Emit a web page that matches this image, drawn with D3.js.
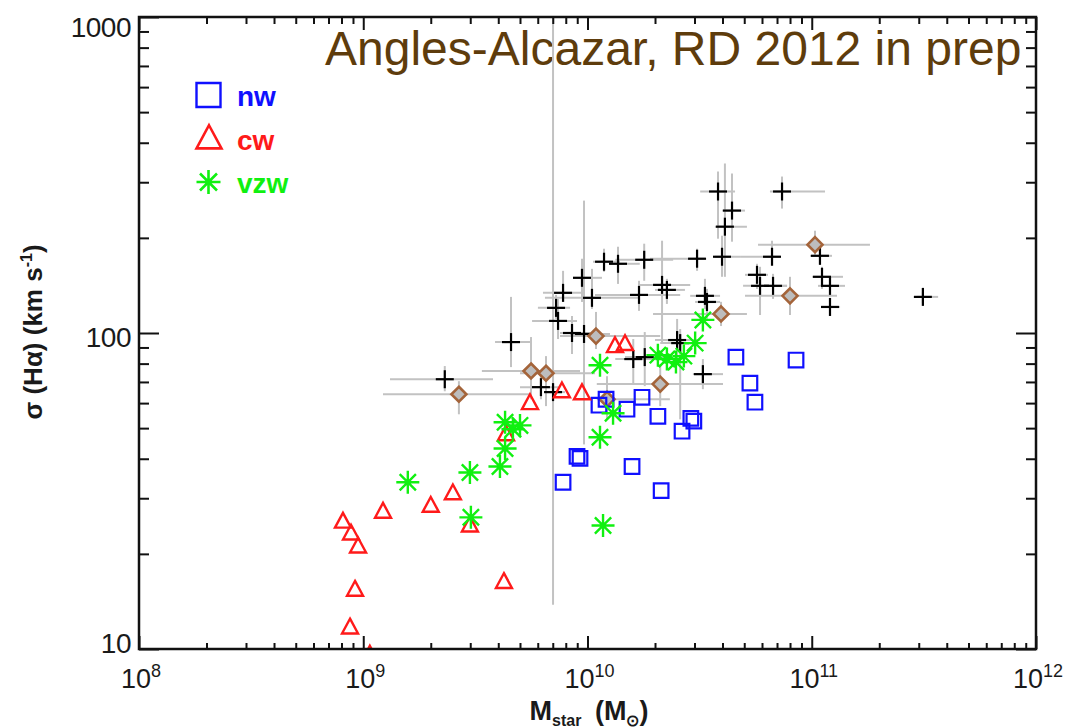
<!DOCTYPE html>
<html>
<head>
<meta charset="utf-8">
<script src="https://cdn.jsdelivr.net/npm/d3@7/dist/d3.min.js"></script>
<style>
  html, body { margin: 0; padding: 0; background: #fff; }
  svg { display: block; }
  text { font-family: "Liberation Sans", Arial, Helvetica, sans-serif; }
</style>
</head>
<body>
<svg id="chart" width="1068" height="728"></svg>
<script>
// ---- data ---------------------------------------------------------------
// simulated winds: no wind (nw), constant wind (cw), momentum-driven wind (vzw)
const nwMass  = [7.78e9, 8.98e9, 9.26e9, 1.125e10, 1.21e10, 1.50e10, 1.75e10, 2.06e10, 1.58e10, 2.13e10, 2.64e10, 2.89e10, 2.98e10, 4.59e10, 5.30e10, 5.58e10, 8.51e10];
const nwSigma = [33.7, 40.7, 40.1, 59.1, 61.7, 57.4, 62.6, 54.5, 37.8, 31.7, 48.9, 53.7, 52.6, 83.9, 69.4, 60.4, 82.1];

const cwMass  = [8.12e8, 8.82e8, 9.48e8, 9.19e8, 8.73e8, 1.225e9, 2.00e9, 2.51e9, 2.99e9, 4.24e9, 4.33e9, 5.54e9, 7.69e9, 9.45e9, 1.326e10, 1.47e10, 1.07e9];
const cwSigma = [25.3, 23.2, 21.1, 15.4, 11.7, 27.2, 28.4, 31.1, 24.6, 16.3, 47.8, 60.0, 65.4, 64.5, 90.9, 92.3, 9.6];

const vzwMass  = [1.58e9, 2.99e9, 3.02e9, 4.07e9, 4.29e9, 4.29e9, 4.65e9, 5.00e9, 1.137e10, 1.30e10, 1.137e10, 1.173e10, 2.06e10, 2.26e10, 2.48e10, 2.69e10, 3.02e10, 3.27e10];
const vzwSigma = [33.7, 36.2, 26.1, 37.8, 43.1, 52.2, 49.6, 51.0, 79.1, 55.7, 46.8, 24.6, 85.1, 82.7, 80.9, 84.5, 92.9, 110];

// observed galaxies (crosses) with error ranges
const crossMass   = [2.31e9, 4.56e9, 6.20e9, 7.02e9, 7.24e9, 7.39e9, 7.78e9, 8.53e9, 9.65e9, 9.45e9, 1.047e10, 1.185e10, 1.368e10, 1.697e10, 1.79e10, 2.15e10, 2.26e10, 1.60e10, 1.80e10, 2.51e10, 2.59e10, 3.27e10, 3.08e10, 3.98e10, 3.82e10, 4.41e10, 4.10e10, 7.37e10, 6.65e10, 5.70e10, 5.88e10, 6.72e10, 1.088e11, 1.111e11, 1.206e11, 1.206e11, 3.13e11, 3.34e10, 3.41e10];
const crossSigma  = [71.4, 93.6, 67.4, 65.0, 120.1, 109.2, 134.0, 100, 99.3, 149.5, 129.2, 168.1, 165.6, 132.0, 170.5, 142.0, 136.9, 82.7, 83.9, 95.0, 92.9, 74.1, 171.8, 174.3, 280.4, 244.0, 217.0, 280.4, 174.3, 152.8, 141.0, 141.0, 175.5, 150.6, 141.0, 120.9, 130.1, 131.1, 125.4];
const crossMassLo = [1.316e9, 3.87e9, 5.00e9, 6.46e9, 6.01e9, 5.66e9, 6.33e9, 7.54e9, 8.36e9, 8.62e9, 6.46e9, 1.058e10, 1.26e10, 1.08e10, 1.33e10, 1.71e10, 2.00e10, 1.33e10, 1.47e10, 2.00e10, 2.11e10, 2.95e10, 1.90e10, 3.70e10, 3.18e10, 3.98e10, 3.70e10, 6.51e10, 4.79e10, 5.04e10, 4.94e10, 5.88e10, 9.82e10, 1.003e11, 1.066e11, 1.111e11, 2.95e11, 2.87e10, 3.02e10];
const crossMassHi = [3.79e9, 5.54e9, 7.54e9, 7.94e9, 8.36e9, 8.98e9, 9.74e9, 1.026e10, 1.26e10, 1.16e10, 1.71e10, 1.396e10, 1.71e10, 2.59e10, 2.41e10, 2.87e10, 2.72e10, 2.11e10, 2.22e10, 3.18e10, 3.18e10, 4.02e10, 3.34e10, 4.79e10, 4.55e10, 5.04e10, 5.14e10, 1.146e11, 7.22e10, 6.38e10, 7.76e10, 7.76e10, 1.231e11, 1.378e11, 1.407e11, 1.337e11, 3.66e11, 3.90e10, 3.90e10];
const crossSigmaLo = [65.4, 78.0, 61.7, 13.8, 110.8, 95.7, 125.4, 85.8, 44.4, 125.4, 119.2, 156.2, 143.0, 117.5, 146.3, 93.6, 123.6, 68.9, 67.9, 82.7, 53.3, 66.4, 157.3, 150.6, 198.8, 194.5, 150.6, 247.6, 165.6, 137.9, 114.0, 128.2, 164.4, 137.9, 131.1, 114.0, 124.5, 119.2, 110.8];
const crossSigmaHi = [78.6, 130.1, 74.1, 1000, 132.0, 128.2, 157.3, 113.2, 262.4, 171.8, 159.6, 184.8, 187.5, 146.3, 191.7, 195.9, 148.4, 95.7, 100.7, 110.8, 102.9, 82.7, 184.8, 203.2, 324.4, 319.7, 343.9, 312.7, 195.9, 165.6, 162.0, 153.9, 187.5, 162.0, 150.6, 128.2, 134.9, 148.4, 137.9];

// observed galaxies (diamonds) with error ranges
const diamondMass    = [2.67e9, 5.60e9, 6.53e9, 1.091e10, 1.222e10, 2.11e10, 3.94e10, 8.00e10, 1.034e11];
const diamondSigma   = [64.0, 75.8, 74.6, 97.8, 61.7, 68.9, 114.9, 131.1, 190.3];
const diamondMassLo  = [1.225e9, 3.38e9, 5.0e9, 7.54e9, 1.10e10, 1.10e10, 1.96e10, 5.04e10, 5.76e10];
const diamondMassHi  = [5.54e9, 9.26e9, 1.08e10, 2.11e10, 2.33e10, 4.02e10, 5.14e10, 1.296e11, 1.818e11];
const diamondSigmaLo = [55.3, 61.7, 58.7, 89.0, 53.3, 58.7, 105.2, 114.0, 175.5];
const diamondSigmaHi = [70.4, 97.1, 84.5, 116.6, 73.0, 79.7, 125.5, 150.6, 210.7];

// axes
const xTickExponents = ["8", "9", "10", "11", "12"];
const yTickLabels = ["10", "100", "1000"];
const legendLabels = ["nw", "cw", "vzw"];
const titleText = "Angles-Alcazar, RD 2012 in prep";

// ---- layout -------------------------------------------------------------
const L = 139, R = 1036, T = 17, B = 649;
const svg = d3.select("#chart");

const x = d3.scaleLog().domain([1e8, 1e12]).range([L, R]);
const y = d3.scaleLog().domain([10, 1000]).range([B, T]);

const BLUE = "#1010ff", RED = "#ff1a1a", GREEN = "#10f010";
const GREY = "#c2c2c2", BROWN = "#a4643a";

svg.append("defs").append("clipPath").attr("id", "plotclip")
  .append("rect").attr("x", L).attr("y", T - 1).attr("width", R - L).attr("height", B - T + 1);

// ---- title --------------------------------------------------------------
svg.append("text")
  .attr("x", 325).attr("y", 65)
  .attr("font-size", 48)
  .attr("fill", "#5e3c0c")
  .text(titleText);

// ---- data layer ---------------------------------------------------------
const plot = svg.append("g").attr("clip-path", "url(#plotclip)");

function errorBars(g, mass, sig, mLo, mHi, sLo, sHi) {
  mass.forEach((m, i) => {
    g.append("line").attr("x1", x(mLo[i])).attr("x2", x(mHi[i]))
      .attr("y1", y(sig[i])).attr("y2", y(sig[i]));
    g.append("line").attr("x1", x(m)).attr("x2", x(m))
      .attr("y1", y(sLo[i])).attr("y2", y(sHi[i]));
  });
}
const eb = plot.append("g").attr("stroke", GREY).attr("stroke-width", 2);
errorBars(eb, crossMass, crossSigma, crossMassLo, crossMassHi, crossSigmaLo, crossSigmaHi);
errorBars(eb, diamondMass, diamondSigma, diamondMassLo, diamondMassHi, diamondSigmaLo, diamondSigmaHi);

// crosses
const cross = plot.append("g").attr("stroke", "#000").attr("stroke-width", 2.2);
crossMass.forEach((m, i) => {
  const cx = x(m), cy = y(crossSigma[i]);
  cross.append("line").attr("x1", cx - 9).attr("x2", cx + 9).attr("y1", cy).attr("y2", cy);
  cross.append("line").attr("x1", cx).attr("x2", cx).attr("y1", cy - 9).attr("y2", cy + 9);
});

// diamonds
plot.append("g").selectAll("path").data(diamondMass).join("path")
  .attr("d", (m, i) => {
    const cx = x(m), cy = y(diamondSigma[i]), r = 7.5;
    return `M${cx},${cy - r}L${cx + r},${cy}L${cx},${cy + r}L${cx - r},${cy}Z`;
  })
  .attr("fill", "#bdbdbd").attr("stroke", BROWN).attr("stroke-width", 2.6);

// marker shapes
function squarePath(cx, cy, s) {
  return `M${cx - s},${cy - s}H${cx + s}V${cy + s}H${cx - s}Z`;
}
function trianglePath(cx, cy, s) {
  return `M${cx},${cy - s * 1.1}L${cx + s},${cy + s * 0.75}L${cx - s},${cy + s * 0.75}Z`;
}
function starPath(cx, cy, r) {
  const d = r * Math.SQRT1_2;
  return `M${cx - r},${cy}H${cx + r}M${cx},${cy - r}V${cy + r}` +
         `M${cx - d},${cy - d}L${cx + d},${cy + d}M${cx - d},${cy + d}L${cx + d},${cy - d}`;
}

plot.append("g").selectAll("path").data(nwMass).join("path")
  .attr("d", (m, i) => squarePath(x(m), y(nwSigma[i]), 7.3))
  .attr("fill", "none").attr("stroke", BLUE).attr("stroke-width", 2.2);

plot.append("g").selectAll("path").data(cwMass).join("path")
  .attr("d", (m, i) => trianglePath(x(m), y(cwSigma[i]), 8))
  .attr("fill", "none").attr("stroke", RED).attr("stroke-width", 2.4).attr("stroke-linejoin", "miter");

plot.append("g").selectAll("path").data(vzwMass).join("path")
  .attr("d", (m, i) => starPath(x(m), y(vzwSigma[i]), 11.5))
  .attr("fill", "none").attr("stroke", GREEN).attr("stroke-width", 2.4);

// ---- axes ---------------------------------------------------------------
const xAll = x.ticks();
const xMajor = xAll.filter(v => Math.abs(Math.log10(v) - Math.round(Math.log10(v))) < 1e-9);
const xMinor = xAll.filter(v => !xMajor.includes(v));
const yAll = y.ticks();
const yMajor = yAll.filter(v => Math.abs(Math.log10(v) - Math.round(Math.log10(v))) < 1e-9);
const yMinor = yAll.filter(v => !yMajor.includes(v));

function axisGroup(axis, tx, ty) {
  const g = svg.append("g").attr("transform", `translate(${tx},${ty})`).call(axis);
  g.select(".domain").remove();
  g.selectAll("text").remove();
  g.selectAll("line").attr("stroke", "#111").attr("stroke-width", 2);
  return g;
}
axisGroup(d3.axisBottom(x).tickValues(xMajor).tickSizeInner(-13).tickSizeOuter(0), 0, B);
axisGroup(d3.axisBottom(x).tickValues(xMinor).tickSizeInner(-6).tickSizeOuter(0), 0, B);
axisGroup(d3.axisTop(x).tickValues(xMajor).tickSizeInner(-13).tickSizeOuter(0), 0, T);
axisGroup(d3.axisTop(x).tickValues(xMinor).tickSizeInner(-7).tickSizeOuter(0), 0, T);
axisGroup(d3.axisLeft(y).tickValues(yMajor).tickSizeInner(-20).tickSizeOuter(0), L, 0);
axisGroup(d3.axisLeft(y).tickValues(yMinor).tickSizeInner(-10).tickSizeOuter(0), L, 0);
axisGroup(d3.axisRight(y).tickValues(yMajor).tickSizeInner(-20).tickSizeOuter(0), R, 0);
axisGroup(d3.axisRight(y).tickValues(yMinor).tickSizeInner(-10).tickSizeOuter(0), R, 0);

svg.append("rect").attr("x", L).attr("y", T).attr("width", R - L).attr("height", B - T)
  .attr("fill", "none").attr("stroke", "#111").attr("stroke-width", 2.5);

// x tick labels: 10 with a superscript exponent
xMajor.forEach((v, i) => {
  const t = svg.append("text")
    .attr("x", x(v) + 2).attr("y", 688)
    .attr("text-anchor", "middle")
    .attr("font-size", 27).attr("fill", "#1a1a1a");
  t.append("tspan").text("10");
  t.append("tspan").attr("font-size", 18).attr("dy", -11).text(xTickExponents[i]);
});

// y tick labels, kept inside the vertical extent of the frame
yMajor.forEach((v, i) => {
  const cy = Math.max(27, Math.min(643, y(v) + 4));
  svg.append("text")
    .attr("x", 131).attr("y", cy + 10)
    .attr("text-anchor", "end")
    .attr("font-size", 28).attr("letter-spacing", -0.5).attr("fill", "#1a1a1a")
    .text(yTickLabels[i]);
});

// axis titles
const xt = svg.append("text")
  .attr("x", 589).attr("y", 720)
  .attr("text-anchor", "middle")
  .attr("font-size", 27).attr("font-weight", "bold").attr("fill", "#1a1a1a");
xt.append("tspan").text("M");
xt.append("tspan").attr("font-size", 16).attr("dy", 6).text("star");
xt.append("tspan").attr("dy", -6).text("\u2002(M");
xt.append("tspan").attr("font-size", 16).attr("dy", 6).text("\u2299");
xt.append("tspan").attr("dy", -6).text(")");

const yt = svg.append("text")
  .attr("transform", "translate(42,332) rotate(-90)")
  .attr("text-anchor", "middle")
  .attr("font-size", 26).attr("font-weight", "bold").attr("fill", "#1a1a1a");
yt.append("tspan").text("\u03c3 (H\u03b1) (km s");
yt.append("tspan").attr("font-size", 16).attr("dy", -10).text("-1");
yt.append("tspan").attr("dy", 10).text(")");

// ---- legend -------------------------------------------------------------
const lg = svg.append("g");
const legendColors = [BLUE, RED, GREEN];
const rowY = [95, 139, 182];
lg.append("path").attr("d", squarePath(208.5, rowY[0], 12))
  .attr("fill", "none").attr("stroke", BLUE).attr("stroke-width", 2.4);
lg.append("path").attr("d", trianglePath(209, rowY[1], 12.5))
  .attr("fill", "none").attr("stroke", RED).attr("stroke-width", 2.6);
lg.append("path").attr("d", starPath(208.5, rowY[2], 12))
  .attr("fill", "none").attr("stroke", GREEN).attr("stroke-width", 2.6);
legendLabels.forEach((s, i) => {
  lg.append("text").attr("x", 237).attr("y", rowY[i] + 11)
    .attr("font-size", 28).attr("font-weight", "bold").attr("fill", legendColors[i])
    .text(s);
});
</script>
</body>
</html>
